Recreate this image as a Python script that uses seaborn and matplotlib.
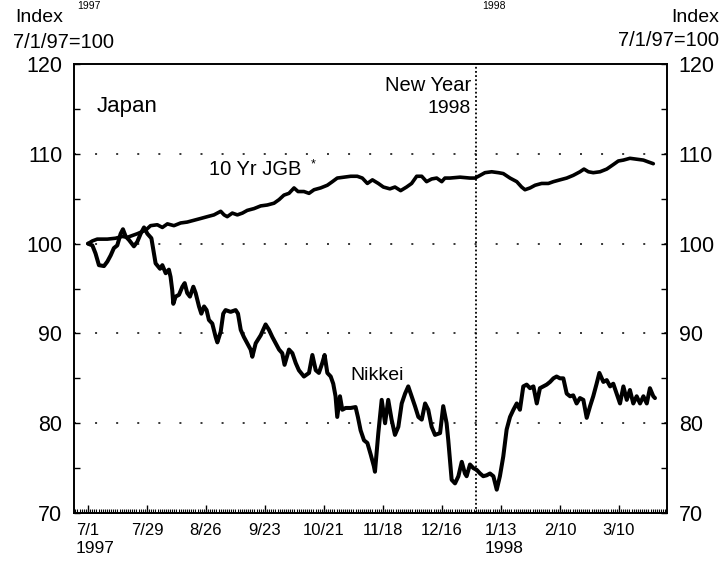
import numpy as np
import pandas as pd
import matplotlib
matplotlib.use("Agg")
import matplotlib.pyplot as plt
from matplotlib.ticker import FixedLocator, MultipleLocator
import seaborn as sns

# ---- data (days since 7/1/1997, index 7/1/97 = 100) ----
nikkei_day = [0.0, 2.1, 3.6, 5.2, 7.6, 9.2, 10.8, 12.3, 13.9, 15.5, 16.6, 17.9, 19.5, 21.8, 23.4,
              25.0, 26.6, 28.2, 30.1, 31.3, 32.1, 34.2, 35.3, 36.9, 38.4, 39.2, 40.0, 40.5, 41.6,
              43.2, 44.8, 45.9, 47.1, 48.4, 50.0, 51.1, 52.7, 53.8, 55.1, 56.3, 57.4, 59.0, 60.6,
              61.4, 63.0, 64.2, 65.3, 67.7, 70.1, 71.2, 72.5, 74.0, 75.6, 77.2, 78.0, 79.6, 82.0,
              84.3, 85.9, 87.5, 89.1, 90.7, 92.2, 93.3, 95.4, 97.0, 98.6, 100.1, 102.5, 104.9,
              106.5, 108.1, 109.6, 111.2, 112.3, 113.6, 115.2, 116.4, 117.5, 118.3, 119.6, 120.7,
              122.3, 124.7, 127.0, 128.1, 129.4, 131.0, 132.6, 134.2, 135.7, 136.2, 137.8, 139.4,
              141.0, 142.5, 144.1, 145.7, 147.3, 148.9, 150.5, 152.0, 153.6, 155.2, 156.8, 158.4,
              160.0, 161.5, 163.1, 164.7, 167.1, 168.6, 170.2, 171.0, 171.8, 172.6, 174.2, 175.8,
              177.4, 178.9, 179.7, 181.3, 182.9, 184.5, 186.1, 187.6, 189.2, 190.8, 192.4, 194.0,
              195.5, 197.1, 198.7, 200.3, 201.9, 203.5, 205.0, 206.6, 208.2, 209.8, 211.4, 213.0,
              214.5, 216.1, 217.7, 219.3, 220.9, 222.4, 224.0, 225.6, 227.2, 228.8, 230.3, 231.9,
              233.5, 235.1, 236.7, 238.3, 239.8, 241.4, 242.7, 244.6, 246.2, 247.8, 249.3, 250.9,
              252.5, 254.1, 255.7, 257.2, 258.8, 260.4, 262.0, 263.6, 265.2, 266.7, 268.3, 269.1]
nikkei_val = [100.0, 99.8, 98.9, 97.6, 97.5, 98.0, 98.7, 99.5, 99.8, 101.1, 101.6, 100.8, 100.4, 99.7, 100.2,
              101.1, 101.8, 101.1, 100.6, 98.9, 97.8, 97.2, 97.6, 96.7, 97.1, 96.3, 94.8, 93.3, 94.1,
              94.3, 95.2, 95.6, 94.5, 94.1, 95.2, 94.5, 93.0, 92.2, 93.0, 92.6, 91.5, 91.1, 89.6,
              89.0, 90.2, 92.2, 92.6, 92.4, 92.6, 92.2, 90.4, 89.6, 88.9, 88.2, 87.4, 88.9, 89.8,
              91.0, 90.4, 89.6, 88.9, 88.2, 87.8, 86.5, 88.2, 87.8, 86.7, 85.9, 85.2, 85.6,
              87.6, 85.9, 85.6, 86.7, 87.6, 85.6, 85.2, 84.4, 83.0, 80.7, 83.0, 81.5,
              81.7, 81.7, 81.8, 80.7, 79.2, 78.1, 77.8, 76.5, 75.2, 74.6, 78.9, 82.6,
              80.0, 82.6, 80.4, 78.7, 79.6, 82.2, 83.3, 84.1, 83.0, 81.9, 80.7, 80.4,
              82.2, 81.5, 79.6, 78.7, 78.9, 81.9, 80.0, 78.1, 75.9, 73.7, 73.3, 74.1,
              75.7, 74.4, 74.1, 75.4, 75.0, 74.8, 74.4, 74.1, 74.2, 74.4, 74.1, 72.6,
              74.1, 76.3, 79.3, 80.7, 81.5, 82.2, 81.5, 84.1, 84.3, 83.9, 84.1, 82.2,
              83.9, 84.1, 84.3, 84.6, 85.0, 85.2, 85.0, 85.0, 83.3, 83.0, 83.1, 82.2,
              82.8, 82.6, 80.6, 81.9, 83.0, 84.4, 85.6, 84.6, 84.8, 84.1, 84.4, 83.3,
              82.2, 84.1, 82.6, 83.7, 82.2, 83.0, 82.2, 83.0, 82.2, 83.9, 83.0, 82.8]

jgb_day = [0.0, 2.1, 4.4, 9.2, 13.1, 16.3, 18.7, 23.4, 27.4, 29.7, 32.9, 35.3, 37.7, 40.8, 44.0,
           47.1, 50.3, 53.5, 56.6, 59.8, 63.0, 64.6, 66.1, 68.5, 70.9, 73.3, 75.6, 78.8, 82.0,
           85.1, 88.3, 90.7, 93.0, 95.4, 97.8, 99.7, 102.5, 104.9, 107.3, 110.4, 113.6, 116.0,
           118.3, 121.5, 124.7, 127.8, 130.2, 132.6, 135.0, 137.8, 140.2, 143.3, 145.7, 148.4,
           151.2, 153.6, 156.0, 158.4, 160.7, 163.1, 165.5, 167.9, 169.4, 171.8, 176.6, 181.3,
           183.7, 186.1, 188.4, 191.6, 194.8, 197.1, 200.3, 203.5, 205.8, 207.4, 209.8, 212.2,
           215.3, 218.5, 220.9, 224.0, 227.2, 230.3, 233.5, 235.4, 237.5, 239.8, 243.0, 246.2,
           249.3, 251.7, 254.1, 257.2, 260.4, 263.6, 265.9, 268.3]
jgb_val = [100.0, 100.3, 100.5, 100.5, 100.6, 100.8, 100.7, 101.1, 101.5, 102.0, 102.1, 101.8, 102.2, 102.0, 102.3,
           102.4, 102.6, 102.8, 103.0, 103.2, 103.6, 103.2, 103.0, 103.4, 103.2, 103.4, 103.7, 103.9, 104.2,
           104.3, 104.5, 104.9, 105.4, 105.6, 106.2, 105.8, 105.8, 105.6, 106.0, 106.2, 106.5, 106.9,
           107.3, 107.4, 107.5, 107.5, 107.3, 106.7, 107.1, 106.7, 106.3, 106.1, 106.3, 105.9,
           106.3, 106.7, 107.5, 107.5, 106.9, 107.2, 107.3, 106.9, 107.3, 107.3, 107.4, 107.3,
           107.3, 107.6, 107.9, 108.0, 107.9, 107.8, 107.3, 106.9, 106.3, 106.0, 106.2, 106.5,
           106.7, 106.7, 106.9, 107.1, 107.3, 107.6, 108.0, 108.3, 108.0, 107.9, 108.0, 108.3,
           108.8, 109.2, 109.3, 109.5, 109.4, 109.3, 109.1, 108.9]

tick_days = [0, 28, 56, 84, 112, 140, 168, 196, 224, 252]
tick_labels = ["7/1", "7/29", "8/26", "9/23", "10/21", "11/18", "12/16", "1/13", "2/10", "3/10"]
y_ticks = [70, 80, 90, 100, 110, 120]
grid_levels = [80, 90, 100, 110]
new_year_day = 184

# ---- style ----
sns.set_theme(style="white")
plt.rcParams["font.family"] = ["Liberation Sans", "DejaVu Sans"]
plt.rcParams["text.color"] = "black"
plt.rcParams["xtick.bottom"] = True
plt.rcParams["xtick.direction"] = "in"
plt.rcParams["ytick.direction"] = "in"

fig = plt.figure(figsize=(7.21, 5.65), dpi=100)
ax = fig.add_axes([0.1026, 0.092, 0.8225, 0.7947])

df_n = pd.DataFrame({"day": nikkei_day, "index": nikkei_val})
df_j = pd.DataFrame({"day": jgb_day, "index": jgb_val})
sns.lineplot(data=df_n, x="day", y="index", ax=ax, color="black", lw=2.9,
             estimator=None, legend=False)
sns.lineplot(data=df_j, x="day", y="index", ax=ax, color="black", lw=2.6,
             estimator=None, legend=False)

for lv in grid_levels:
    ax.axhline(lv, color="black", lw=1.1, ls=(0, (1.3, 12.5)), zorder=1)
ax.axvline(new_year_day, color="black", lw=1.3, ls=(0, (1.0, 1.3)), zorder=1)

ax.set_xlim(-6.64, 274.8)
ax.set_ylim(70, 120)
ax.set_xlabel("")
ax.set_ylabel("")

ax.xaxis.set_major_locator(FixedLocator(tick_days))
ax.set_xticklabels(tick_labels)
ax.xaxis.set_minor_locator(MultipleLocator(1))
ax.yaxis.set_major_locator(FixedLocator(y_ticks))
ax.yaxis.set_minor_locator(MultipleLocator(5))

ax.tick_params(axis="x", which="major", direction="in", length=6, width=1.0,
               bottom=True, top=False, labelsize=12, pad=7, colors="black")
ax.tick_params(axis="x", which="minor", direction="in", length=3, width=0.8,
               bottom=True, top=False, colors="black")
ax.tick_params(axis="y", which="both", direction="in", length=4, width=1.0,
               left=True, right=True, colors="black")
ax.tick_params(axis="y", which="major", labelleft=True, labelright=True,
               labelsize=15.5, pad=8.5)

for s in ax.spines.values():
    s.set_color("black")
    s.set_linewidth(1.4)
    s.set_visible(True)

# ---- annotations ----
ax.text(0.039, 0.906, "Japan", transform=ax.transAxes, fontsize=16, ha="left", va="center")
ax.text(57.4, 108.2, "10 Yr JGB", fontsize=14.5, ha="left", va="center")
ax.text(105.5, 108.8, "*", fontsize=9, ha="left", va="center")
ax.text(124.3, 85.3, "Nikkei", fontsize=14, ha="left", va="center")
ax.text(181.8, 117.66, "New Year", fontsize=14.5, ha="right", va="center")
ax.text(181.8, 115.1, "1998", fontsize=14, ha="right", va="center")

ax.annotate("1997", xy=(-5.7, 0), xycoords=("data", "axes fraction"),
            xytext=(0, -35), textcoords="offset pixels", fontsize=12.5,
            ha="left", va="center")
ax.annotate("1998", xy=(188.3, 0), xycoords=("data", "axes fraction"),
            xytext=(0, -35), textcoords="offset pixels", fontsize=12.5,
            ha="left", va="center")

fig.text(15 / 721, 1 - 17 / 565, "Index", fontsize=14, ha="left", va="center")
fig.text(13 / 721, 1 - 43 / 565, "7/1/97=100", fontsize=14.5, ha="left", va="center")
fig.text(719 / 721, 1 - 17 / 565, "Index", fontsize=14, ha="right", va="center")
fig.text(719 / 721, 1 - 40 / 565, "7/1/97=100", fontsize=14.5, ha="right", va="center")
# remnants of the year labels of the panel above (kept inside the frame)
fig.text(77 / 721, 1 - 1 / 565, "1997", fontsize=7.5, ha="left", va="top")
fig.text(482 / 721, 1 - 1 / 565, "1998", fontsize=7.5, ha="left", va="top")

fig.savefig("out.png", dpi=100, facecolor="white")
